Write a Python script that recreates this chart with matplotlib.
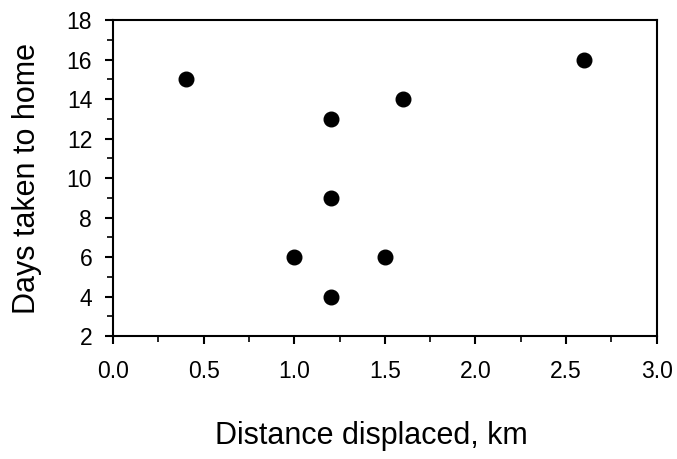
import matplotlib
matplotlib.use("Agg")
import matplotlib.pyplot as plt
from matplotlib.ticker import MultipleLocator

plt.rcParams['font.family'] = ['Liberation Sans', 'DejaVu Sans']

# displacement distance vs. homing time
distance_km = [0.4, 1.2, 1.6, 2.6, 1.2, 1.0, 1.5, 1.2]
days_to_home = [15, 13, 14, 16, 9, 6, 6, 4]

fig = plt.figure(figsize=(6.77, 4.59), dpi=100)
ax = fig.add_axes([0.167, 0.268, 0.803, 0.688])

ax.plot(distance_km, days_to_home, 'o', color='black', markersize=10.5, clip_on=False)

ax.set_xlim(0, 3.0)
ax.set_ylim(2, 18)
ax.xaxis.set_major_locator(MultipleLocator(0.5))
ax.xaxis.set_minor_locator(MultipleLocator(0.25))
ax.yaxis.set_major_locator(MultipleLocator(2))
ax.yaxis.set_minor_locator(MultipleLocator(1))
ax.xaxis.set_major_formatter(plt.FormatStrFormatter('%.1f'))

for s in ax.spines.values():
    s.set_linewidth(1.5)
ax.tick_params(which='major', length=6, width=1.5, labelsize=16.5)
ax.tick_params(which='minor', length=4, width=1.2)
ax.tick_params(axis='x', which='major', pad=11)
ax.tick_params(axis='y', which='major', pad=9)

ax.set_xlabel('Distance displaced, km', fontsize=22, labelpad=28)
ax.xaxis.label.set_x(0.475)
ax.set_ylabel('Days taken to home', fontsize=22, labelpad=18)

fig.savefig('out.png', dpi=100)
